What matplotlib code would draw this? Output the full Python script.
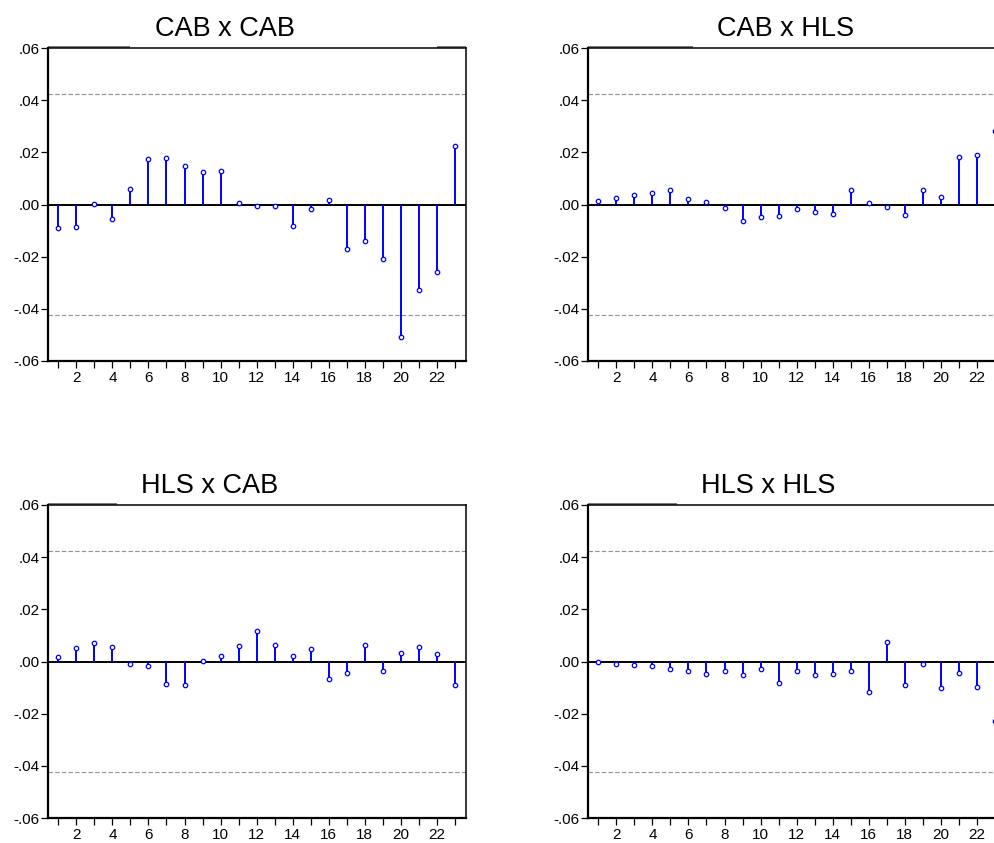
import numpy as np
import matplotlib
matplotlib.use('Agg')
import matplotlib.pyplot as plt
from matplotlib.ticker import FuncFormatter

plt.rcParams['font.family'] = ['Liberation Sans', 'DejaVu Sans']

lags = np.arange(1, 24)

# cross-correlations by lag
cab_cab = [-0.0092, -0.0088, 0.0003, -0.0054, 0.0058, 0.0173, 0.0180, 0.0147,
           0.0124, 0.0130, 0.0006, -0.0005, -0.0005, -0.0083, -0.0018, 0.0019,
           -0.0170, -0.0139, -0.0208, -0.0508, -0.0326, -0.0257, 0.0224]
cab_hls = [0.0014, 0.0024, 0.0035, 0.0046, 0.0054, 0.0022, 0.0008, -0.0013,
           -0.0065, -0.0047, -0.0045, -0.0019, -0.0029, -0.0037, 0.0055, 0.0004,
           -0.0009, -0.0040, 0.0054, 0.0029, 0.0184, 0.0188, 0.0280]
hls_cab = [0.0019, 0.0050, 0.0072, 0.0056, -0.0009, -0.0019, -0.0088, -0.0090,
           0.0001, 0.0022, 0.0061, 0.0118, 0.0064, 0.0020, 0.0049, -0.0069,
           -0.0043, 0.0064, -0.0038, 0.0033, 0.0056, 0.0028, -0.0092]
hls_hls = [-0.0001, -0.0008, -0.0012, -0.0019, -0.0029, -0.0038, -0.0049, -0.0037,
           -0.0051, -0.0029, -0.0081, -0.0037, -0.0051, -0.0049, -0.0035, -0.0118,
           0.0074, -0.0090, -0.0009, -0.0101, -0.0046, -0.0098, -0.0230]

band = 0.0425  # approx. 2 standard error bounds
yticks = [-0.06, -0.04, -0.02, 0.0, 0.02, 0.04, 0.06]

W, H = 994, 843
fig = plt.figure(figsize=(W / 100, H / 100), dpi=100)


def fmt(v, pos):
    s = '%.2f' % v
    s = s.replace('0.', '.', 1)
    if s == '-.00':
        s = '.00'
    return s


def panel(left, top, values, title, tx, ty, seg_left, seg_right=None):
    # pixel box -> figure fraction
    ax = fig.add_axes([left / W, 1 - (top + 313) / H, 418 / W, 313 / H])
    ax.axhline(band, color='#909090', lw=0.8, ls=(0, (4, 2)), zorder=1)
    ax.axhline(-band, color='#909090', lw=0.8, ls=(0, (4, 2)), zorder=1)
    ax.axhline(0, color='black', lw=1.4, zorder=2)
    ax.vlines(lags, 0, values, color='#0000ff', lw=1.4, zorder=3)
    ax.plot(lags, values, 'o', ms=3.2, mfc='white', mec='#0000ff', mew=0.9, zorder=4)
    ax.set_xlim(0.43, 23.61)
    ax.set_ylim(-0.06, 0.06)
    ax.set_yticks(yticks)
    ax.yaxis.set_major_formatter(FuncFormatter(fmt))
    ax.set_xticks(lags)
    ax.set_xticklabels([str(l) if l % 2 == 0 else '' for l in lags])
    ax.tick_params(direction='out', length=5, width=0.9, labelsize=11, pad=1,
                   colors='black')
    ax.tick_params(axis='x', pad=2)
    for side in ['left', 'bottom']:
        ax.spines[side].set_linewidth(1.6)
    for side in ['top', 'right']:
        ax.spines[side].set_linewidth(1.1)
    # short grey strokes over the top frame
    ax.plot([0, seg_left / 418], [1.004, 1.004], transform=ax.transAxes,
            color='#555555', lw=1.1, clip_on=False, solid_capstyle='butt')
    if seg_right is not None:
        ax.plot([1 - seg_right / 418, 1], [1.004, 1.004], transform=ax.transAxes,
                color='#555555', lw=1.1, clip_on=False, solid_capstyle='butt')
    fig.text(tx / W, 1 - ty / H, title, ha='center', va='baseline', fontsize=19.5)
    return ax


panel(48, 48, cab_cab, 'CAB x CAB', 225, 36, 82, 29)
panel(588, 48, cab_hls, 'CAB x HLS', 786, 36, 105)
panel(48, 505, hls_cab, 'HLS x CAB', 210, 493, 69)
panel(588, 505, hls_hls, 'HLS x HLS', 768, 493, 89)

fig.savefig('out.png', dpi=100)
